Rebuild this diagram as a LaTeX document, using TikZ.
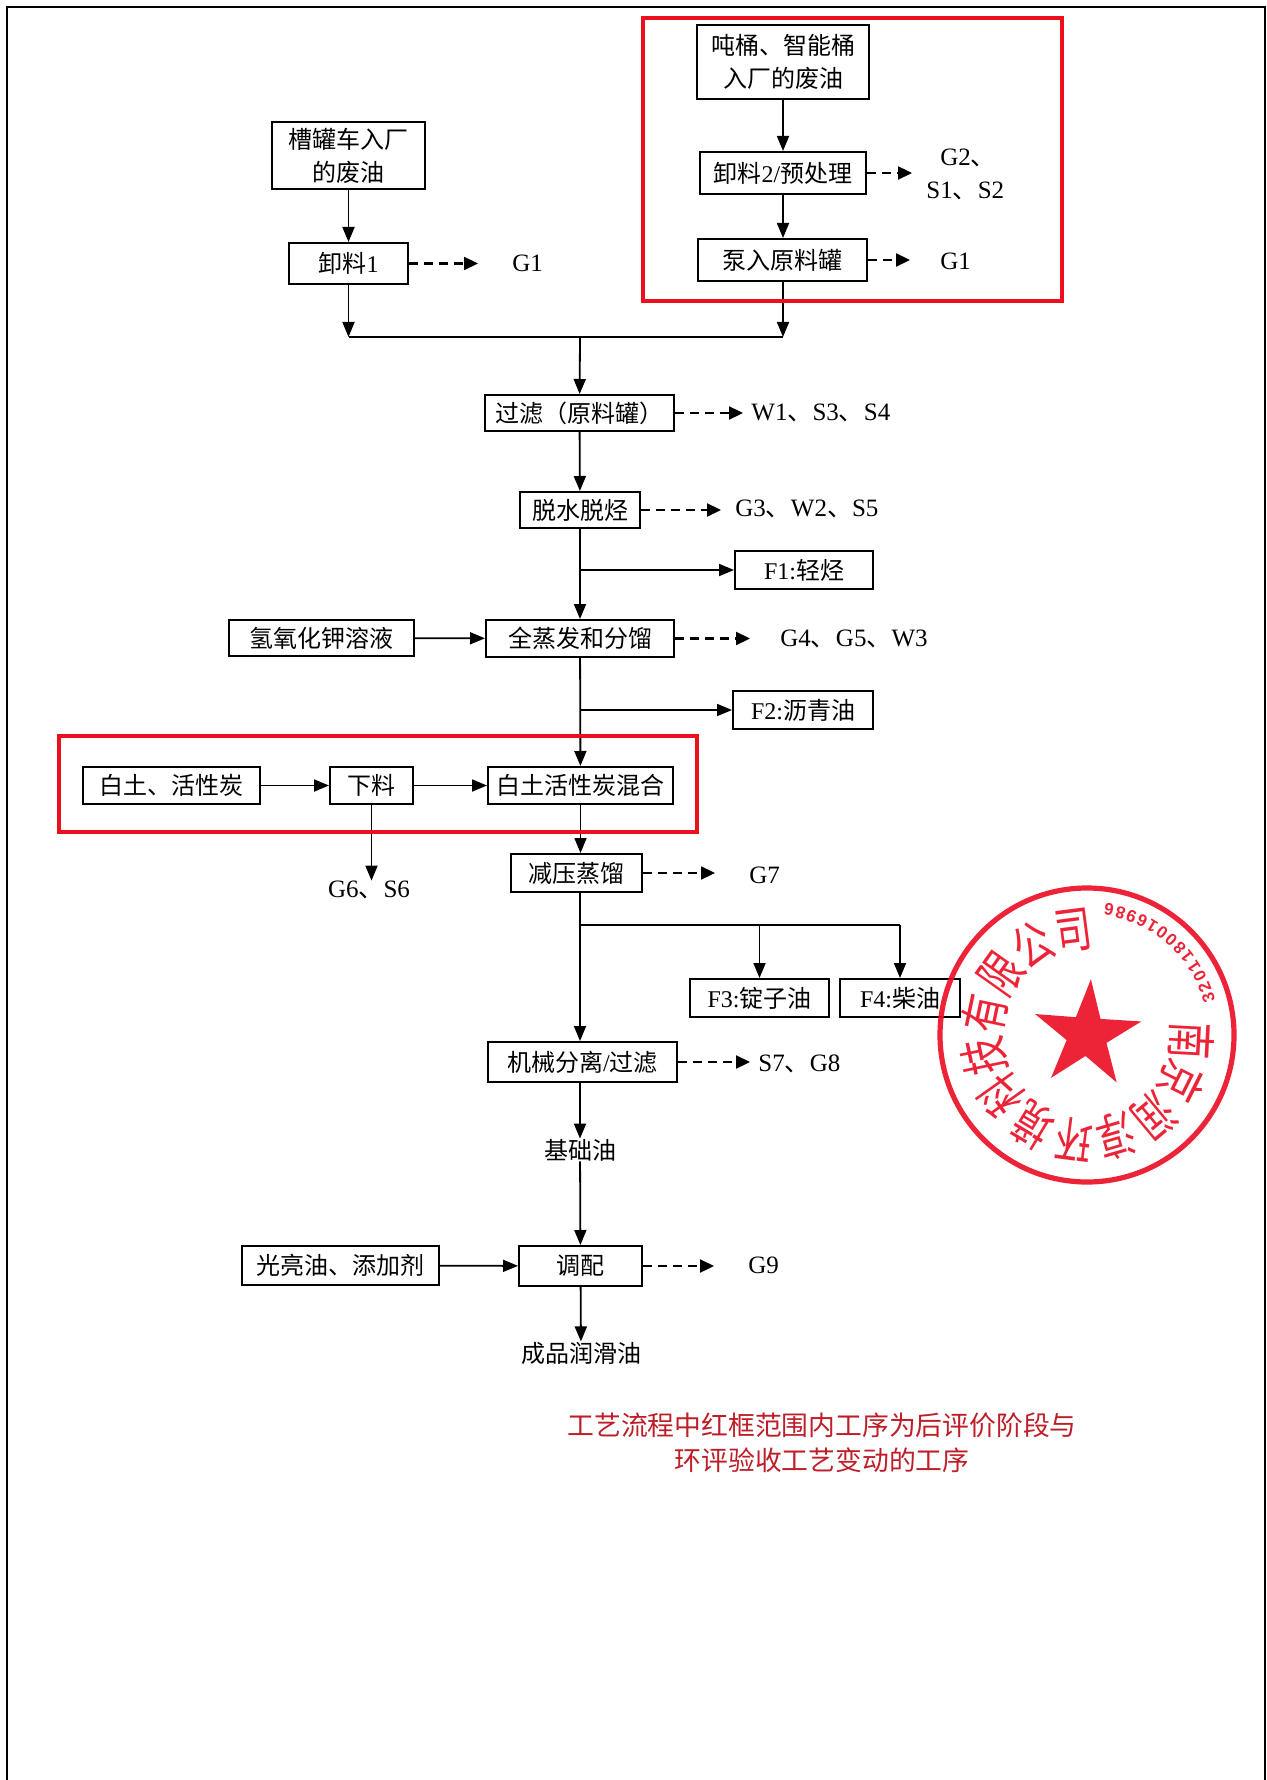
\documentclass[tikz,border=0pt]{standalone}
\usepackage{fontspec}
\setmainfont{Liberation Serif}
\newfontfamily\cjk{Noto Sans CJK SC}
\newfontfamily\stampnum{Liberation Sans}
\usetikzlibrary{arrows.meta}
\definecolor{frameRed}{RGB}{236,16,28}
\definecolor{noteRed}{RGB}{190,30,40}
\definecolor{stampRed}{RGB}{236,18,40}
\tikzset{
  pbox/.style={draw=black,line width=1pt,fill=white,inner sep=0pt,align=center,font=\fontsize{12}{16.5}\selectfont},
  lbl/.style={inner sep=0pt,align=center,font=\fontsize{12.5}{16.5}\selectfont},
  flow/.style={draw=black,line width=.9pt,-{Triangle[length=7.5pt,width=6pt]}},
  plainline/.style={draw=black,line width=1pt},
  dashflow/.style={draw=black,line width=1.1pt,dash pattern=on 4.5pt off 3pt,-{Triangle[length=7pt,width=6.5pt]}},
  redframe/.style={draw=frameRed,line width=1.7pt},
}
\newcommand{\bx}[6]{\node[pbox,minimum width={(#4-#2)*0.5pt},minimum height={(#5-#3)*0.5pt}] (#1) at ({(#2+#4)/2},{(#3+#5)/2}) {#6};}
\begin{document}
\begin{tikzpicture}[x=.5pt,y=-.5pt]
\useasboundingbox (0,0) rectangle (1266,1780);
\fill[white] (0,0) rectangle (1266,1780);
\draw[black,line width=1.1pt] (7,1780) -- (7,7) -- (1265,7) -- (1265,1780);

% boxes
\bx{tk}{272}{122}{425}{189}{\cjk 槽罐车入厂\\\cjk 的废油}
\bx{xl}{289}{243}{408}{284}{\cjk 卸料{\rmfamily 1}}
\bx{dt}{697}{25}{869}{99}{\cjk 吨桶、智能桶\\\cjk 入厂的废油}
\bx{xlb}{700}{152}{866}{194}{\cjk 卸料{\rmfamily 2/}预处理}
\bx{bf}{698}{239}{867}{281}{\cjk 泵入原料罐}
\bx{gl}{485}{395}{674}{431}{\cjk 过滤（原料罐）}
\bx{ts}{520}{492}{640}{528}{\cjk 脱水脱烃}
\bx{fa}{735}{551}{873}{589}{F1:{\cjk 轻烃}}
\bx{qy}{229}{620}{414}{656}{\cjk 氢氧化钾溶液}
\bx{qz}{486}{620}{674}{657}{\cjk 全蒸发和分馏}
\bx{fb}{733}{691}{873}{729}{F2:{\cjk 沥青油}}
\bx{bt}{83}{767}{260}{804}{\cjk 白土、活性炭}
\bx{xia}{330}{767}{413}{804}{\cjk 下料}
\bx{hh}{488}{767}{673}{804}{\cjk 白土活性炭混合}
\bx{jy}{511}{854}{642}{892}{\cjk 减压蒸馏}
\bx{fc}{690}{979}{829}{1017}{F3:{\cjk 锭子油}}
\bx{fd}{840}{979}{960}{1017}{F4:{\cjk 柴油}}
\bx{jx}{488}{1042}{677}{1082}{\cjk 机械分离{\rmfamily /}过滤}
\bx{gy}{242}{1246}{439}{1285}{\cjk 光亮油、添加剂}
\bx{tp}{519}{1246}{642}{1286}{\cjk 调配}

% plain labels
\node[lbl,anchor=west] (lga) at (512,263) {G1};
\node[lbl,anchor=west] (lgb) at (940,158) {G2{\cjk 、}};
\node[lbl,anchor=west] (lsb) at (926,191) {S1{\cjk 、}S2};
\node[lbl,anchor=west] (lgc) at (940,261) {G1};
\node[lbl,anchor=west] (lw) at (751,413) {W1{\cjk 、}S3{\cjk 、}S4};
\node[lbl,anchor=west] (lg) at (735,509) {G3{\cjk 、}W2{\cjk 、}S5};
\node[lbl,anchor=west] (lh) at (780,639) {G4{\cjk 、}G5{\cjk 、}W3};
\node[lbl] (lgs) at (369,890) {G6{\cjk 、}S6};
\node[lbl,anchor=west] (lgq) at (749,875) {G7};
\node[lbl,anchor=west] (ls) at (758,1064) {S7{\cjk 、}G8};
\node[lbl,anchor=west] (lgj) at (748,1265) {G9};
\node[lbl] (jc) at (580,1150) {\cjk\fontsize{12}{16}\selectfont 基础油};
\node[lbl] (cp) at (581,1353) {\cjk\fontsize{12}{16}\selectfont 成品润滑油};
\node[lbl,text=noteRed,font=\fontsize{13.4}{17.5}\selectfont] (note) at (822,1443) {\cjk 工艺流程中红框范围内工序为后评价阶段与\\\cjk 环评验收工艺变动的工序};

% junction coordinates
\coordinate (ja) at (348.5,337);
\coordinate (jb) at (783,337);
\coordinate (jc0) at (580,337);
\coordinate (ba) at (580,570);
\coordinate (bb) at (580,710);
\coordinate (bc) at (580,925);
\coordinate (bd) at (759.5,925);
\coordinate (be) at (900,925);

% solid flows
\draw[flow] (tk) -- (xl);
\draw[flow] (xl) -- (ja);
\draw[flow] (dt) -- (xlb);
\draw[flow] (xlb.south -| jb) -- (bf.north -| jb);
\draw[flow] (bf.south -| jb) -- (jb);
\draw[plainline] (ja) -- (jb);
\draw[flow] (jc0) -- (gl);
\draw[flow] (gl) -- (ts);
\draw[flow] (ts) -- (qz);
\draw[flow] (ba) -- (fa);
\draw[flow] (qy) -- (qz);
\draw[flow] (qz) -- (hh);
\draw[flow] (bb) -- (fb);
\draw[flow] (bt) -- (xia);
\draw[flow] (xia) -- (hh);
\draw[flow] (xia.south) -- (xia.south |- lgs.north);
\draw[flow] (hh.south) -- (hh.south |- jy.north);
\draw[flow] (jy.south -| bc) -- (jx.north -| bc);
\draw[plainline] (bc) -- (be);
\draw[flow] (bd) -- (fc);
\draw[flow] (be) -- (fd);
\draw[flow] (jx.south -| bc) -- (jc);
\draw[flow] (jc) -- (tp);
\draw[flow] (gy) -- (tp);
\draw[flow] (tp) -- (cp);

% dashed flows
\draw[dashflow,shorten >=17pt] (xl.east) -- (xl.east -| lga.west);
\draw[dashflow,shorten >=14pt] (xlb.east) -- (xlb.east -| lgb.west);
\draw[dashflow,shorten >=15pt] (bf.east) -- (bf.east -| lgc.west);
\draw[dashflow,shorten >=4pt] (gl.east) -- (gl.east -| lw.west);
\draw[dashflow,shorten >=7pt] (ts.east) -- (ts.east -| lg.west);
\draw[dashflow,shorten >=15pt] (qz.east) -- (qz.east -| lh.west);
\draw[dashflow,shorten >=17pt] (jy.east) -- (jy.east -| lgq.west);
\draw[dashflow,shorten >=4pt] (jx.east) -- (jx.east -| ls.west);
\draw[dashflow,shorten >=17pt] (tp.east) -- (tp.east -| lgj.west);

% red frames
\draw[redframe] (643,18) rectangle (1062,301);
\draw[redframe] (59,736) rectangle (697,832);

% stamp
\begin{scope}[shift={(1087,1035)},x=.5pt,y=.5pt,stampRed,opacity=.92]
  \draw[line width=2.6pt] (0,0) circle (147);
  \fill (86:56) -- (122:21) -- (158:56) -- (194:21) -- (230:56) -- (266:21) -- (302:56) -- (338:21) -- (14:56) -- (50:21) -- cycle;
  \foreach \c [count=\i] in {南,京,润,淳,环,境,科,技,有,限,公,司}{
    \pgfmathsetmacro\a{-3-(\i-1)*23.6}
    \node[inner sep=0pt,rotate=\a-90,text=stampRed] (st\i) at (\a:105) {\scalebox{.74}[1]{\cjk\fontsize{25}{25}\selectfont\c}};
  }
  \foreach \c [count=\i] in {3,2,0,1,1,8,0,0,1,6,9,8,6}{
    \pgfmathsetmacro\a{17+(\i-1)*5.25}
    \node[inner sep=0pt,rotate=\a+90,text=stampRed] (sn\i) at (\a:127) {\stampnum\bfseries\fontsize{8.5}{8.5}\selectfont\c};
  }
\end{scope}
\end{tikzpicture}
\end{document}
